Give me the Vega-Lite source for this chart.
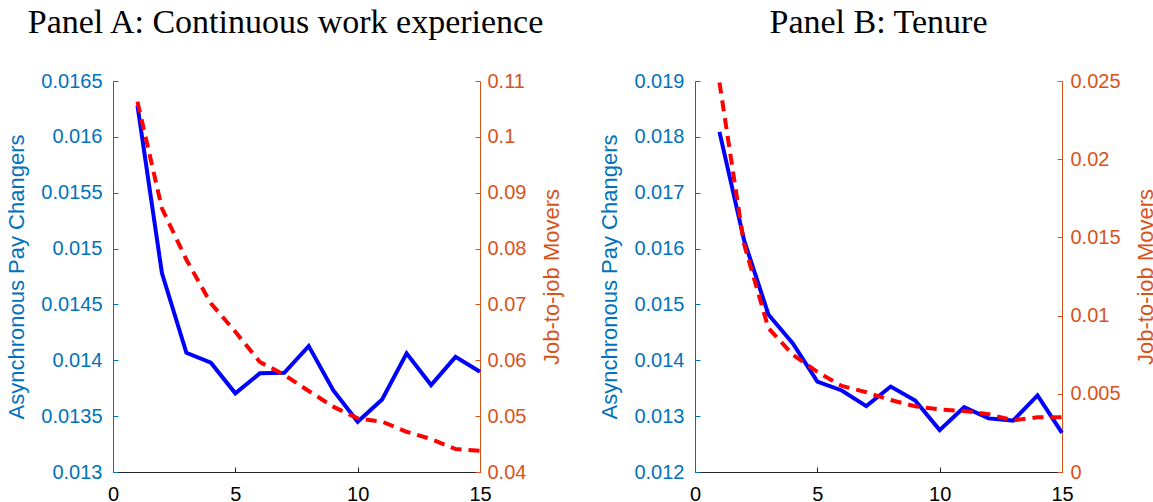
{
  "$schema": "https://vega.github.io/schema/vega-lite/v6.json",
  "background": "white",
  "padding": {"left": 5, "top": 6, "right": 0, "bottom": 0},
  "spacing": 215,
  "bounds": "flush",
  "datasets": {
    "experience": [
      {"t": 1, "apc": 0.01628, "j2j": 0.1063},
      {"t": 2, "apc": 0.01478, "j2j": 0.0872},
      {"t": 3, "apc": 0.014067, "j2j": 0.078},
      {"t": 4, "apc": 0.013978, "j2j": 0.0702},
      {"t": 5, "apc": 0.013704, "j2j": 0.0651},
      {"t": 6, "apc": 0.013883, "j2j": 0.0597},
      {"t": 7, "apc": 0.013888, "j2j": 0.0574},
      {"t": 8, "apc": 0.014127, "j2j": 0.0545},
      {"t": 9, "apc": 0.013733, "j2j": 0.0517},
      {"t": 10, "apc": 0.01345, "j2j": 0.0496},
      {"t": 11, "apc": 0.01365, "j2j": 0.049},
      {"t": 12, "apc": 0.014062, "j2j": 0.0472},
      {"t": 13, "apc": 0.013778, "j2j": 0.0459},
      {"t": 14, "apc": 0.014031, "j2j": 0.0441},
      {"t": 15, "apc": 0.013897, "j2j": 0.0438}
    ],
    "tenure": [
      {"t": 1, "apc": 0.01809, "j2j": 0.0249},
      {"t": 2, "apc": 0.01616, "j2j": 0.0146},
      {"t": 3, "apc": 0.01482, "j2j": 0.0092},
      {"t": 4, "apc": 0.0143, "j2j": 0.0075},
      {"t": 5, "apc": 0.01362, "j2j": 0.0064},
      {"t": 6, "apc": 0.01346, "j2j": 0.0055},
      {"t": 7, "apc": 0.01318, "j2j": 0.0051},
      {"t": 8, "apc": 0.01353, "j2j": 0.0046},
      {"t": 9, "apc": 0.01328, "j2j": 0.0042},
      {"t": 10, "apc": 0.01275, "j2j": 0.004},
      {"t": 11, "apc": 0.01316, "j2j": 0.0039},
      {"t": 12, "apc": 0.01296, "j2j": 0.0037},
      {"t": 13, "apc": 0.01292, "j2j": 0.0033},
      {"t": 14, "apc": 0.01337, "j2j": 0.0035},
      {"t": 15, "apc": 0.0127, "j2j": 0.0035}
    ]
  },
  "config": {
    "view": {"stroke": null},
    "font": "Liberation Sans",
    "axis": {
      "grid": false,
      "labelFont": "Liberation Sans",
      "labelFontSize": 20,
      "titleFont": "Liberation Sans",
      "titleFontSize": 22,
      "titleFontWeight": "normal",
      "tickSize": -5,
      "tickWidth": 1,
      "domainWidth": 1,
      "labelFlush": false,
      "labelOverlap": false
    },
    "title": {
      "font": "Liberation Serif",
      "fontSize": 34,
      "fontWeight": "normal",
      "color": "black",
      "anchor": "middle",
      "frame": "group",
      "offset": 31
    }
  },
  "hconcat": [
    {
      "title": {"text": "Panel A: Continuous work experience", "dx": -11},
      "width": 367,
      "height": 391,
      "data": {"name": "experience"},
      "encoding": {
        "x": {
          "field": "t",
          "type": "quantitative",
          "scale": {"domain": [0, 15], "nice": false},
          "axis": {
            "title": null,
            "values": [0, 5, 10, 15],
            "domainColor": "#262626",
            "tickColor": "#262626",
            "labelColor": "#000000",
            "labelPadding": 17
          }
        }
      },
      "layer": [
        {
          "mark": {"type": "line", "color": "#0000FF", "strokeWidth": 4, "strokeJoin": "miter"},
          "encoding": {
            "y": {
              "field": "apc",
              "type": "quantitative",
              "scale": {"domain": [0.013, 0.0165], "nice": false, "zero": false},
              "axis": {
                "orient": "left",
                "title": "Asynchronous Pay Changers",
                "values": [0.013, 0.0135, 0.014, 0.0145, 0.015, 0.0155, 0.016, 0.0165],
                "format": "~g",
                "domainColor": "#0072BD",
                "tickColor": "#0072BD",
                "labelColor": "#0072BD",
                "titleColor": "#0072BD",
                "labelPadding": 16,
                "titlePadding": 12
              }
            }
          }
        },
        {
          "mark": {"type": "line", "color": "#FF0000", "strokeWidth": 4, "strokeDash": [11, 7], "strokeJoin": "miter"},
          "encoding": {
            "y": {
              "field": "j2j",
              "type": "quantitative",
              "scale": {"domain": [0.04, 0.11], "nice": false, "zero": false},
              "axis": {
                "orient": "right",
                "title": "Job-to-job Movers",
                "values": [0.04, 0.05, 0.06, 0.07, 0.08, 0.09, 0.1, 0.11],
                "format": "~g",
                "domainColor": "#D95319",
                "tickColor": "#D95319",
                "labelColor": "#D95319",
                "titleColor": "#D95319",
                "labelPadding": 12,
                "titleAngle": 270,
                "titleBaseline": "top",
                "titlePadding": 16
              }
            }
          }
        }
      ],
      "resolve": {"scale": {"y": "independent"}}
    },
    {
      "title": {"text": "Panel B: Tenure"},
      "width": 367,
      "height": 391,
      "data": {"name": "tenure"},
      "encoding": {
        "x": {
          "field": "t",
          "type": "quantitative",
          "scale": {"domain": [0, 15], "nice": false},
          "axis": {
            "title": null,
            "values": [0, 5, 10, 15],
            "domainColor": "#262626",
            "tickColor": "#262626",
            "labelColor": "#000000",
            "labelPadding": 17
          }
        }
      },
      "layer": [
        {
          "mark": {"type": "line", "color": "#0000FF", "strokeWidth": 4, "strokeJoin": "miter"},
          "encoding": {
            "y": {
              "field": "apc",
              "type": "quantitative",
              "scale": {"domain": [0.012, 0.019], "nice": false, "zero": false},
              "axis": {
                "orient": "left",
                "title": "Asynchronous Pay Changers",
                "values": [0.012, 0.013, 0.014, 0.015, 0.016, 0.017, 0.018, 0.019],
                "format": "~g",
                "domainColor": "#0072BD",
                "tickColor": "#0072BD",
                "labelColor": "#0072BD",
                "titleColor": "#0072BD",
                "labelPadding": 16,
                "titlePadding": 12
              }
            }
          }
        },
        {
          "mark": {"type": "line", "color": "#FF0000", "strokeWidth": 4, "strokeDash": [11, 7], "strokeJoin": "miter"},
          "encoding": {
            "y": {
              "field": "j2j",
              "type": "quantitative",
              "scale": {"domain": [0, 0.025], "nice": false, "zero": false},
              "axis": {
                "orient": "right",
                "title": "Job-to-job Movers",
                "values": [0, 0.005, 0.01, 0.015, 0.02, 0.025],
                "format": "~g",
                "domainColor": "#D95319",
                "tickColor": "#D95319",
                "labelColor": "#D95319",
                "titleColor": "#D95319",
                "labelPadding": 13,
                "titleAngle": 270,
                "titleBaseline": "top",
                "titlePadding": 15
              }
            }
          }
        }
      ],
      "resolve": {"scale": {"y": "independent"}}
    }
  ]
}
